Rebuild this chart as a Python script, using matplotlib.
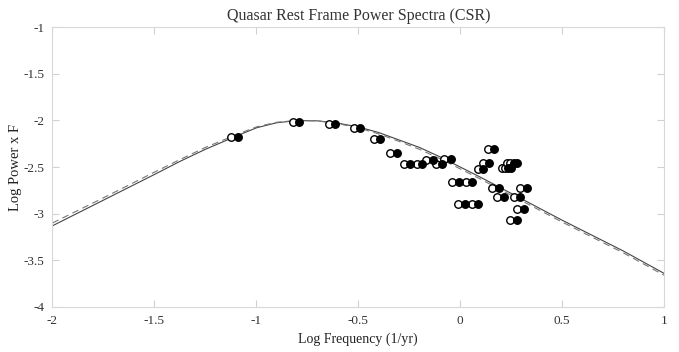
import numpy as np
import matplotlib
matplotlib.use("Agg")
import matplotlib.pyplot as plt

plt.rcParams['font.family'] = ['Liberation Serif', 'DejaVu Serif']
plt.rcParams['axes.unicode_minus'] = False

# data points (open = one frame, filled = shifted copy)
openX = [-1.126, -0.822, -0.644, -0.521, -0.423, -0.342, -0.275, -0.214, -0.168, -0.119,
         -0.078, -0.042, 0.027, -0.009, 0.057, 0.135, 0.111, 0.086, 0.204, 0.219,
         0.232, 0.246, 0.294, 0.179, 0.262, 0.155, 0.278, 0.245]
filledX = [-1.091, -0.792, -0.613, -0.490, -0.392, -0.309, -0.244, -0.186, -0.135, -0.088,
           -0.045, -0.006, 0.060, 0.024, 0.087, 0.168, 0.142, 0.114, 0.234, 0.250,
           0.266, 0.281, 0.327, 0.215, 0.291, 0.191, 0.311, 0.278]
pointY = [-2.18, -2.015, -2.04, -2.086, -2.20, -2.354, -2.468, -2.468, -2.425, -2.468,
          -2.41, -2.665, -2.665, -2.897, -2.897, -2.31, -2.454, -2.525, -2.51, -2.51,
          -2.454, -2.454, -2.72, -2.819, -2.819, -2.729, -2.95, -3.068]

# model curves
curveX = [-2, -1.75, -1.5, -1.375, -1.25, -1.1, -1.0, -0.9, -0.8, -0.7, -0.6, -0.5, -0.4,
          -0.3, -0.2, -0.1, 0, 0.1, 0.2, 0.3, 0.4, 0.5, 0.6, 0.7, 0.8, 0.9, 1.0]
solidY = [-3.13, -2.855, -2.58, -2.44, -2.31, -2.17, -2.08, -2.025, -2.003, -2.005, -2.03,
          -2.07, -2.13, -2.21, -2.29, -2.39, -2.50, -2.61, -2.725, -2.84, -2.955, -3.07,
          -3.18, -3.29, -3.40, -3.52, -3.64]
dashY = [-3.10, -2.83, -2.555, -2.42, -2.29, -2.155, -2.07, -2.02, -2.0, -2.005, -2.035,
         -2.08, -2.145, -2.225, -2.31, -2.41, -2.52, -2.63, -2.745, -2.86, -2.975, -3.09,
         -3.20, -3.31, -3.42, -3.54, -3.66]

xTicks = [-2, -1.5, -1, -0.5, 0, 0.5, 1]
xTickLabels = ['-2', '-1.5', '-1', '-0.5', '0', '0.5', '1']
yTicks = [-1, -1.5, -2, -2.5, -3, -3.5, -4]
yTickLabels = ['-1', '-1.5', '-2', '-2.5', '-3', '-3.5', '-4']

fig = plt.figure(figsize=(6.79, 3.52), dpi=100)
ax = fig.add_axes([0.0773, 0.128, 0.9007, 0.795])

ax.plot(curveX, solidY, color='#444444', lw=0.8)
ax.plot(curveX, dashY, color='#777777', lw=0.8, dashes=(6, 4))
ax.plot(openX, pointY, 'o', ms=5.4, mfc='white', mec='black', mew=1.0, ls='none')
ax.plot(filledX, pointY, 'o', ms=5.4, mfc='black', mec='black', mew=1.0, ls='none')

ax.set_xlim(-2, 1)
ax.set_ylim(-4, -1)
ax.set_xticks(xTicks)
ax.set_xticklabels(xTickLabels)
ax.set_yticks(yTicks)
ax.set_yticklabels(yTickLabels)
ax.tick_params(direction='in', length=5, width=0.8, color='#d0d0d0', labelsize=9.5,
               labelcolor='#333333', top=True, right=True, pad=6)
for s in ax.spines.values():
    s.set_color('#d8d8d8')
    s.set_linewidth(0.8)

ax.set_title('Quasar Rest Frame Power Spectra (CSR)', fontsize=11.5, color='#333333', pad=5)
ax.set_xlabel('Log Frequency (1/yr)', fontsize=10, color='#222222', labelpad=4)
ax.set_ylabel('Log Power x F', fontsize=10.5, color='#222222', labelpad=1)

fig.savefig('out.png', dpi=100)
